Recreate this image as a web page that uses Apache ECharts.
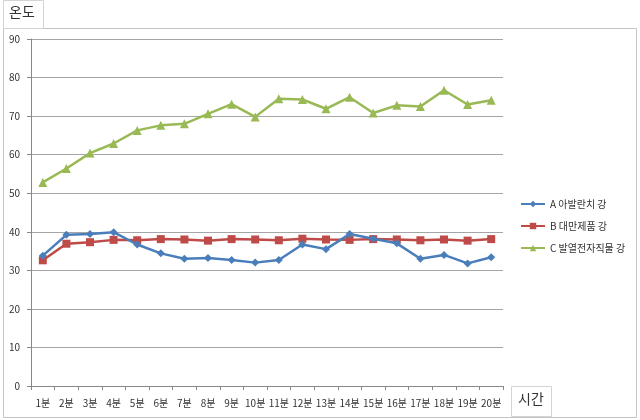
<!DOCTYPE html>
<html><head><meta charset="utf-8">
<script src="https://cdn.jsdelivr.net/npm/echarts@6/dist/echarts.min.js"></script>
<style>html,body{margin:0;padding:0;background:#fff}#c{width:640px;height:420px}</style>
</head><body><div id="c"></div>
<script>
const categories = ['1분','2분','3분','4분','5분','6분','7분','8분','9분','10분','11분','12분','13분','14분','15분','16분','17분','18분','19분','20분'];
const seriesNames = ['A 아발란치 강','B 대만제품 강','C 발열전자직물 강'];
const seriesA = [33.8,39.2,39.4,39.9,36.7,34.4,33.0,33.2,32.7,32.0,32.7,36.7,35.5,39.4,38.2,37.0,33.0,34.0,31.8,33.4];
const seriesB = [32.6,36.9,37.3,37.9,37.8,38.1,38.0,37.7,38.1,38.0,37.8,38.2,38.0,37.9,38.1,38.0,37.8,38.0,37.7,38.1];
const seriesC = [52.8,56.4,60.4,62.9,66.3,67.6,68.0,70.6,73.1,69.8,74.5,74.3,71.9,74.9,70.8,72.8,72.5,76.7,73.0,74.1];
const yTitle = '온도';
const xTitle = '시간';
const yMin = 0, yMax = 90, yStep = 10;

const font = '"Noto Sans CJK KR", "Noto Sans", sans-serif';
const chart = echarts.init(document.getElementById('c'), null, {renderer:'canvas'});
chart.setOption({
  animation:false,
  backgroundColor:'#fff',
  textStyle:{fontFamily:font},
  graphic:[
    {type:'rect', shape:{x:3.5,y:28.5,width:633,height:389}, style:{fill:'none',stroke:'#c4c4c4',lineWidth:1}, z:-1},
    {type:'rect', shape:{x:3.5,y:0.5,width:40,height:28}, style:{fill:'#fff',stroke:'#d4d4d4',lineWidth:1}},
    {type:'text', left:9, top:5, style:{text:yTitle, font:'14px '+font, fill:'#333'}},
    {type:'rect', shape:{x:511.5,y:386.5,width:40,height:30}, style:{fill:'#fff',stroke:'#d4d4d4',lineWidth:1}},
    {type:'text', left:518, top:392, style:{text:xTitle, font:'14px '+font, fill:'#333'}}
  ],
  grid:{left:31, right:137, top:39, bottom:34, containLabel:false},
  legend:{
    orient:'vertical', left:515, top:194, itemGap:12, itemWidth:24, itemHeight:8,
    textStyle:{fontSize:10, color:'#333', fontFamily:font},
    data:seriesNames
  },
  xAxis:{
    type:'category', data:categories, boundaryGap:true,
    axisLine:{lineStyle:{color:'#888'}},
    axisTick:{show:true, length:4, lineStyle:{color:'#888'}},
    axisLabel:{color:'#333', fontSize:10, margin:12, interval:0, fontFamily:font}
  },
  yAxis:{
    type:'value', min:yMin, max:yMax, interval:yStep,
    axisLine:{show:true, lineStyle:{color:'#888'}},
    axisTick:{show:true, length:4, lineStyle:{color:'#888'}},
    axisLabel:{color:'#333', fontSize:10, margin:11, fontFamily:font},
    splitLine:{lineStyle:{color:'#a6a6a6'}}
  },
  series:[
    {name:seriesNames[0], type:'line', data:seriesA, symbol:'diamond', symbolSize:8,
     itemStyle:{color:'#4a7ebb'}, lineStyle:{width:2.5,color:'#4a7ebb'}, z:3},
    {name:seriesNames[1], type:'line', data:seriesB, symbol:'rect', symbolSize:8,
     itemStyle:{color:'#be4b48'}, lineStyle:{width:2.5,color:'#be4b48'}, z:2},
    {name:seriesNames[2], type:'line', data:seriesC, symbol:'triangle', symbolSize:9,
     itemStyle:{color:'#98b954'}, lineStyle:{width:2.5,color:'#98b954'}, z:2}
  ]
});
</script></body></html>
